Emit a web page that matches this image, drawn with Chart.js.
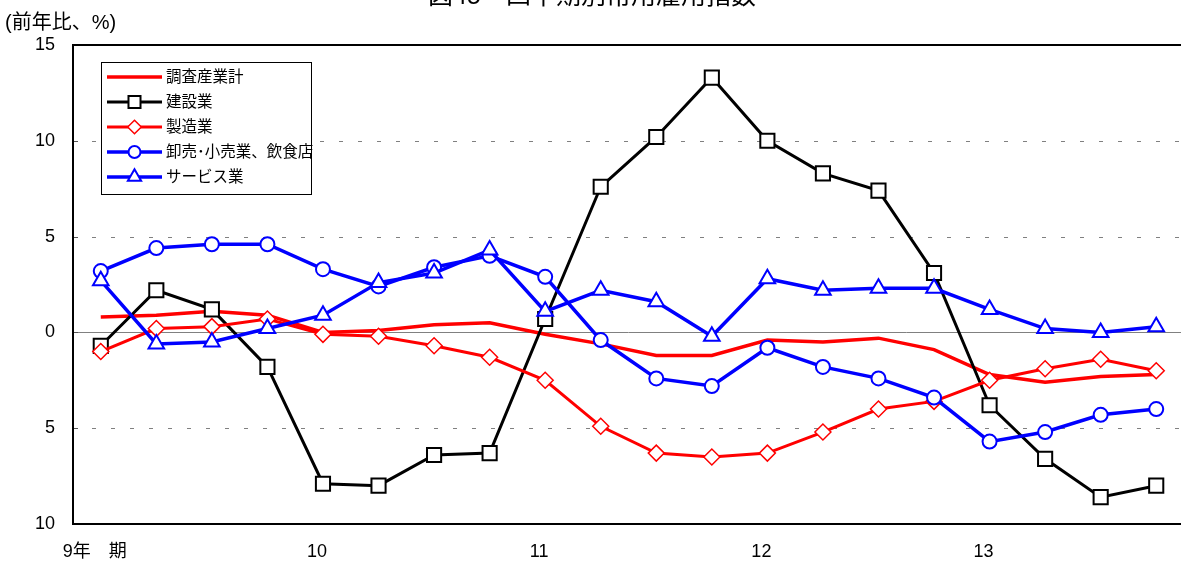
<!DOCTYPE html>
<html>
<head>
<meta charset="utf-8">
<script src="https://cdn.jsdelivr.net/npm/chart.js"></script>
<style>
  html, body { margin: 0; padding: 0; background: #fff; overflow: hidden; }
</style>
</head>
<body>
<canvas id="koyouChart" width="1196" height="567"></canvas>
<script>
const quarters = ["9年　期", "", "", "", "10", "", "", "", "11", "", "", "", "12", "", "", "", "13", "", "", ""];

const seriesNames = ["調査産業計", "建設業", "製造業", "卸売･小売業、飲食店", "サービス業"];

const totalAll = [0.8, 0.9, 1.1, 0.9, 0.0, 0.1, 0.4, 0.5, -0.1, -0.6, -1.2, -1.2, -0.4, -0.5, -0.3, -0.9, -2.2, -2.6, -2.3, -2.2];
const construction = [-0.7, 2.2, 1.2, -1.8, -7.9, -8.0, -6.4, -6.3, 0.7, 7.6, 10.2, 13.3, 10.0, 8.3, 7.4, 3.1, -3.8, -6.6, -8.6, -8.0];
const manufacturing = [-1.0, 0.2, 0.3, 0.7, -0.1, -0.2, -0.7, -1.3, -2.5, -4.9, -6.3, -6.5, -6.3, -5.2, -4.0, -3.6, -2.5, -1.9, -1.4, -2.0];
const wholesaleRetail = [3.2, 4.4, 4.6, 4.6, 3.3, 2.4, 3.4, 4.0, 2.9, -0.4, -2.4, -2.8, -0.8, -1.8, -2.4, -3.4, -5.7, -5.2, -4.3, -4.0];
const services = [2.7, -0.6, -0.5, 0.2, 0.9, 2.6, 3.1, 4.3, 1.1, 2.2, 1.6, -0.2, 2.8, 2.2, 2.3, 2.3, 1.2, 0.2, 0.0, 0.3];

const yTicks = [15, 10, 5, 0, -5, -10];

const RED = "#ff0000";
const BLUE = "#0000ff";
const BLACK = "#000000";
const FONT = "'Liberation Sans', Arial, 'Noto Sans CJK JP', sans-serif";

// legend entries share the dataset styles
const styles = [
  { color: RED, width: 3.5, point: false },
  { color: BLACK, width: 3, point: "rect", radius: 10, border: 2 },
  { color: RED, width: 3, point: "rectRot", radius: 8, border: 1.5 },
  { color: BLUE, width: 3.5, point: "circle", radius: 7, border: 2 },
  { color: BLUE, width: 3.5, point: "triangle", radius: 9, border: 2 },
];
const values = [totalAll, construction, manufacturing, wholesaleRetail, services];

const datasets = values.map((v, i) => {
  const s = styles[i];
  return {
    label: seriesNames[i],
    data: v,
    borderColor: s.color,
    borderWidth: s.width,
    tension: 0,
    pointStyle: s.point || "circle",
    pointRadius: s.point ? s.radius : 0,
    pointHoverRadius: s.point ? s.radius : 0,
    pointBorderWidth: s.border || 0,
    pointBorderColor: s.color,
    pointBackgroundColor: "#fff",
    order: 5 - i,
  };
});

function legendMarker(ctx, s, x, y) {
  const r = s.radius * 0.85;
  ctx.save();
  ctx.lineWidth = s.border;
  ctx.strokeStyle = s.color;
  ctx.fillStyle = "#fff";
  ctx.beginPath();
  if (s.point === "rect") {
    const h = r * Math.SQRT1_2;
    ctx.rect(x - h, y - h, 2 * h, 2 * h);
  } else if (s.point === "rectRot") {
    ctx.moveTo(x, y - r); ctx.lineTo(x + r, y); ctx.lineTo(x, y + r); ctx.lineTo(x - r, y);
    ctx.closePath();
  } else if (s.point === "circle") {
    ctx.arc(x, y, r, 0, Math.PI * 2);
  } else if (s.point === "triangle") {
    ctx.moveTo(x, y - r);
    ctx.lineTo(x + r * 0.866, y + r / 2);
    ctx.lineTo(x - r * 0.866, y + r / 2);
    ctx.closePath();
  }
  ctx.fill();
  ctx.stroke();
  ctx.restore();
}

// gridlines, axis frame, title and legend box
const framePlugin = {
  id: "frame",
  beforeDatasetsDraw(chart) {
    const { ctx, chartArea: a, scales: { y } } = chart;
    ctx.save();
    yTicks.forEach((t) => {
      const py = Math.round(y.getPixelForValue(t)) + 0.5;
      if (t === 15 || t === -10) return;
      ctx.beginPath();
      ctx.lineWidth = 1;
      ctx.strokeStyle = "#808080";
      ctx.setLineDash(t === 0 ? [] : [4, 15]);
      ctx.moveTo(a.left, py);
      ctx.lineTo(a.right, py);
      ctx.stroke();
      // short inner tick
      ctx.setLineDash([]);
      ctx.strokeStyle = "#555";
      ctx.beginPath();
      ctx.moveTo(a.left, py);
      ctx.lineTo(a.left + 5, py);
      ctx.stroke();
    });
    ctx.restore();
  },
  afterDatasetsDraw(chart) {
    const { ctx, chartArea: a } = chart;
    ctx.save();
    ctx.lineWidth = 2;
    ctx.strokeStyle = BLACK;
    ctx.beginPath();
    ctx.moveTo(a.right, a.top);
    ctx.lineTo(a.left, a.top);
    ctx.lineTo(a.left, a.bottom);
    ctx.lineTo(a.right, a.bottom);
    ctx.stroke();

    // legend
    const lx = 101, ly = 62, lw = 210, lh = 132;
    ctx.fillStyle = "#fff";
    ctx.fillRect(lx, ly, lw, lh);
    ctx.lineWidth = 1;
    ctx.strokeRect(lx + 0.5, ly + 0.5, lw, lh);
    ctx.font = "15.5px " + FONT;
    ctx.textBaseline = "middle";
    seriesNames.forEach((name, i) => {
      const s = styles[i];
      const yy = 77 + i * 25;
      ctx.strokeStyle = s.color;
      ctx.lineWidth = s.width;
      ctx.beginPath();
      ctx.moveTo(107, yy);
      ctx.lineTo(162, yy);
      ctx.stroke();
      if (s.point) legendMarker(ctx, s, 134.5, yy);
      ctx.fillStyle = BLACK;
      ctx.fillText(name, 166, yy + 1);
    });

    // headings
    ctx.fillStyle = BLACK;
    ctx.textBaseline = "alphabetic";
    ctx.font = "25px " + FONT;
    ctx.textAlign = "center";
    ctx.fillText("図45　四半期別常用雇用指数", 592, 4);
    ctx.font = "20px " + FONT;
    ctx.textAlign = "left";
    ctx.fillText("(前年比、%)", 5, 29);
    ctx.restore();
  },
};

new Chart(document.getElementById("koyouChart"), {
  type: "line",
  data: { labels: quarters, datasets: datasets },
  options: {
    responsive: false,
    animation: false,
    layout: { padding: { top: 45, right: 1, left: 0, bottom: 0 } },
    plugins: { legend: { display: false }, tooltip: { enabled: false }, title: { display: false } },
    scales: {
      x: {
        offset: true,
        grid: { display: false, drawTicks: false },
        border: { display: false },
        afterFit: (s) => { s.height = 43; },
        ticks: {
          autoSkip: false,
          maxRotation: 0,
          padding: 17,
          labelOffset: -6,
          color: BLACK,
          font: { family: FONT, size: 18 },
        },
      },
      y: {
        min: -10,
        max: 15,
        grid: { display: false, drawTicks: false },
        border: { display: false },
        afterFit: (s) => { s.width = 73; },
        afterBuildTicks: (s) => { s.ticks = yTicks.map((v) => ({ value: v })); },
        ticks: {
          padding: 18,
          color: BLACK,
          font: { family: FONT, size: 18 },
          callback: (v) => String(Math.abs(v)),
        },
      },
    },
  },
  plugins: [framePlugin],
});
</script>
</body>
</html>
